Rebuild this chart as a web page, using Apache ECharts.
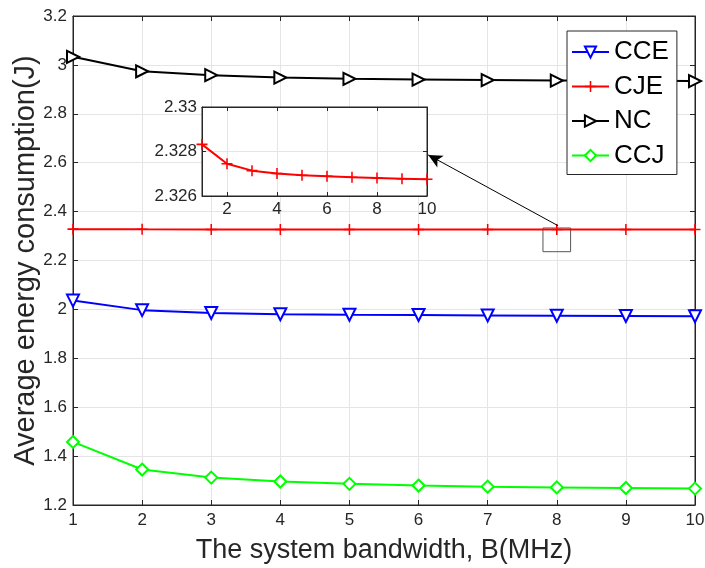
<!DOCTYPE html>
<html>
<head>
<meta charset="utf-8">
<script src="https://cdn.jsdelivr.net/npm/echarts@6/dist/echarts.min.js"></script>
<style>
  html, body { margin: 0; padding: 0; background: #fff; }
  #chart { width: 705px; height: 568px; }
</style>
</head>
<body>
<div id="chart"></div>
<script>
  // bandwidth B (MHz)
  var bandwidth = [1, 2, 3, 4, 5, 6, 7, 8, 9, 10];
  var cce = [2.036, 1.997, 1.985, 1.980, 1.978, 1.977, 1.9755, 1.974, 1.973, 1.972];
  var cje = [2.32832, 2.32745, 2.32714, 2.32701, 2.32693, 2.32689, 2.32684, 2.32681, 2.32678, 2.32675];
  var nc = [3.033, 2.974, 2.958, 2.948, 2.943, 2.940, 2.938, 2.936, 2.935, 2.934];
  var ccj = [1.458, 1.345, 1.312, 1.296, 1.2865, 1.2795, 1.275, 1.272, 1.2695, 1.267];
  var insetXTicks = [2, 4, 6, 8, 10];

  var font = 'Liberation Sans, Arial, sans-serif';
  var axisColor = '#262626';
  var gridColor = '#e5e5e5';
  var plusPath = 'path://M4.3,0 H5.7 V4.3 H10 V5.7 H5.7 V10 H4.3 V5.7 H0 V4.3 H4.3 Z';

  function pairs(ys) {
    return bandwidth.map(function (x, i) { return [x, ys[i]]; });
  }

  var chart = echarts.init(document.getElementById('chart'));

  var tick = { inside: true, length: 5, lineStyle: { color: axisColor } };
  var line = { show: true, lineStyle: { color: axisColor, width: 1 } };
  var tickFont = { fontFamily: font, fontSize: 17, color: axisColor };

  var option = {
    animation: false,
    backgroundColor: '#fff',
    textStyle: { fontFamily: font },
    grid: [
      { left: 73, right: 10, top: 16, bottom: 63, outerBoundsMode: 'none', containLabel: false,
        show: true, borderColor: axisColor, borderWidth: 1, backgroundColor: '#fff' },
      { left: 202, top: 107, width: 225, height: 89, outerBoundsMode: 'none', containLabel: false,
        show: true, borderColor: axisColor, borderWidth: 1, backgroundColor: '#fff', z: 10 }
    ],
    legend: {
      orient: 'vertical',
      left: 567, top: 31,
      padding: [8, 8, 6, 4],
      itemGap: 8.5,
      itemWidth: 37, itemHeight: 14,
      borderColor: axisColor, borderWidth: 1, backgroundColor: '#fff',
      textStyle: { fontFamily: font, fontSize: 26, color: '#000', lineHeight: 26 },
      data: ['CCE', 'CJE', 'NC', 'CCJ'],
      z: 20
    },
    xAxis: [
      {
        gridIndex: 0, type: 'value', min: 1, max: 10, interval: 1,
        name: 'The system bandwidth, B(MHz)', nameLocation: 'middle', nameGap: 32, nameMoveOverlap: false,
        nameTextStyle: { fontFamily: font, fontSize: 27, color: axisColor },
        axisLine: line, axisTick: tick,
        axisLabel: Object.assign({ margin: 7 }, tickFont),
        splitLine: { show: true, lineStyle: { color: gridColor } }
      },
      {
        gridIndex: 0, type: 'value', position: 'top', min: 1, max: 10, interval: 1,
        axisLine: line, axisTick: tick, axisLabel: { show: false }, splitLine: { show: false }
      },
      {
        gridIndex: 1, type: 'value', min: 1, max: 10,
        axisLine: line,
        axisTick: { inside: true, length: 4, lineStyle: { color: axisColor }, customValues: insetXTicks },
        axisLabel: Object.assign({ margin: 5, customValues: insetXTicks }, tickFont),
        splitLine: { show: true, lineStyle: { color: gridColor } },
        z: 11
      },
      {
        gridIndex: 1, type: 'value', position: 'top', min: 1, max: 10,
        axisLine: line,
        axisTick: { inside: true, length: 4, lineStyle: { color: axisColor }, customValues: insetXTicks },
        axisLabel: { show: false, customValues: insetXTicks },
        splitLine: { show: false },
        z: 11
      }
    ],
    yAxis: [
      {
        gridIndex: 0, type: 'value', min: 1.2, max: 3.2, interval: 0.2,
        name: 'Average energy consumption(J)', nameLocation: 'middle', nameGap: 33, nameMoveOverlap: false,
        nameTextStyle: { fontFamily: font, fontSize: 29, color: axisColor },
        axisLine: line, axisTick: tick,
        axisLabel: Object.assign({ margin: 6 }, tickFont),
        splitLine: { show: true, lineStyle: { color: gridColor } }
      },
      {
        gridIndex: 0, type: 'value', position: 'right', min: 1.2, max: 3.2, interval: 0.2,
        axisLine: line, axisTick: tick, axisLabel: { show: false }, splitLine: { show: false }
      },
      {
        gridIndex: 1, type: 'value', min: 2.326, max: 2.33, interval: 0.002,
        axisLine: line, axisTick: { inside: true, length: 4, lineStyle: { color: axisColor } },
        axisLabel: Object.assign({ margin: 5 }, tickFont),
        splitLine: { show: true, lineStyle: { color: gridColor } },
        z: 11
      },
      {
        gridIndex: 1, type: 'value', position: 'right', min: 2.326, max: 2.33, interval: 0.002,
        axisLine: line, axisTick: { inside: true, length: 4, lineStyle: { color: axisColor } },
        axisLabel: { show: false }, splitLine: { show: false },
        z: 11
      }
    ],
    series: [
      {
        name: 'CCE', type: 'line', xAxisIndex: 0, yAxisIndex: 0,
        data: pairs(cce),
        symbol: 'emptyTriangle', symbolRotate: 180, symbolSize: 12,
        itemStyle: { color: '#0000ff', borderWidth: 2 },
        lineStyle: { color: '#0000ff', width: 2 }
      },
      {
        name: 'CJE', type: 'line', xAxisIndex: 0, yAxisIndex: 0,
        data: pairs(cje),
        symbol: plusPath, symbolSize: 11,
        itemStyle: { color: '#ff0000' },
        lineStyle: { color: '#ff0000', width: 2 },
        markArea: {
          silent: true,
          itemStyle: { color: 'rgba(0,0,0,0)', borderColor: '#555', borderWidth: 1 },
          data: [[{ coord: [7.8, 2.333] }, { coord: [8.2, 2.236] }]]
        },
        markLine: {
          silent: true,
          symbol: ['none', 'arrow'], symbolSize: [10, 14],
          label: { show: false },
          lineStyle: { color: '#000', width: 1, type: 'solid' },
          data: [[{ coord: [8.02, 2.342] }, { coord: [6.14, 2.632] }]]
        }
      },
      {
        name: 'NC', type: 'line', xAxisIndex: 0, yAxisIndex: 0,
        data: pairs(nc),
        symbol: 'emptyTriangle', symbolRotate: -90, symbolSize: 12,
        itemStyle: { color: '#000000', borderWidth: 2 },
        lineStyle: { color: '#000000', width: 2 }
      },
      {
        name: 'CCJ', type: 'line', xAxisIndex: 0, yAxisIndex: 0,
        data: pairs(ccj),
        symbol: 'emptyDiamond', symbolSize: 12,
        itemStyle: { color: '#00ff00', borderWidth: 2 },
        lineStyle: { color: '#00ff00', width: 2 }
      },
      {
        name: 'CJE zoom', type: 'line', xAxisIndex: 2, yAxisIndex: 2,
        data: pairs(cje),
        symbol: plusPath, symbolSize: 11,
        itemStyle: { color: '#ff0000' },
        lineStyle: { color: '#ff0000', width: 2 },
        z: 12
      }
    ]
  };

  chart.setOption(option);
</script>
</body>
</html>
